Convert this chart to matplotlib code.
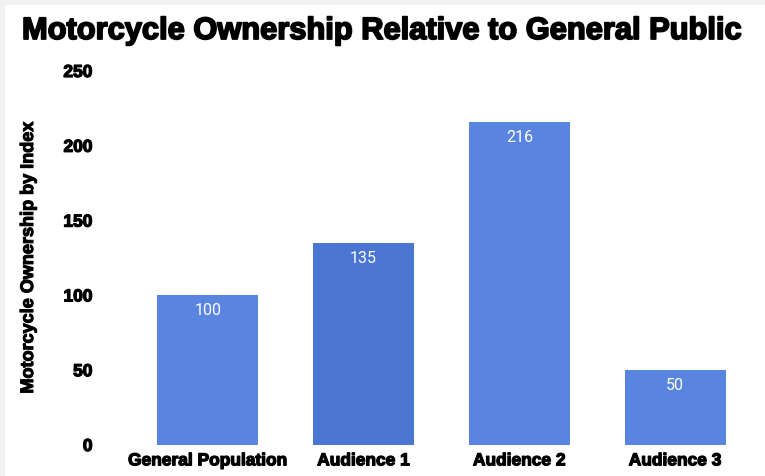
import matplotlib
matplotlib.use("Agg")
import matplotlib.pyplot as plt
import matplotlib.patheffects as pe
from matplotlib.patches import Rectangle

# ── Data ──────────────────────────────────────────────────────────────────────
categories = ["General Population", "Audience 1", "Audience 2", "Audience 3"]
index_values = [100, 135, 216, 50]
bar_colors = ["#5985E0", "#4A76D1", "#5985E0", "#5985E0"]
y_ticks = [0, 50, 100, 150, 200, 250]

TITLE = "Motorcycle Ownership Relative to General Public"
Y_LABEL = "Motorcycle Ownership by Index"

BOLD = ["Liberation Sans", "DejaVu Sans"]
HEAVY = [pe.withStroke(linewidth=0.9, foreground="black")]

# ── Figure ────────────────────────────────────────────────────────────────────
fig = plt.figure(figsize=(7.65, 4.76), dpi=100, facecolor="#f2f2f2")
# white card with a thin grey margin on the left/top
fig.patches.append(Rectangle((5 / 765, 0), 1, 1 - 5 / 476, transform=fig.transFigure,
                             facecolor="white", edgecolor="none", zorder=-10))

ax = fig.add_axes([130 / 765, 31 / 476, 623 / 765, 374 / 476])
ax.set_facecolor("none")
ax.set_zorder(1)

x = range(len(categories))
bars = ax.bar(x, index_values, width=0.65, color=bar_colors, zorder=2)

for rect, val in zip(bars, index_values):
    ax.annotate(f"{val}", (rect.get_x() + rect.get_width() / 2, val),
                xytext=(0, -5.5), textcoords="offset points",
                ha="center", va="top", color="white",
                fontsize=11.5, family=["Roboto", "DejaVu Sans"])

ax.set_xlim(-0.5, 3.5)
ax.set_ylim(0, 250)
ax.set_yticks(y_ticks)
ax.set_xticks(list(x))
ax.set_xticklabels(categories)

for lab in ax.get_yticklabels() + ax.get_xticklabels():
    lab.set_family(BOLD)
    lab.set_fontweight("bold")
    lab.set_fontsize(12.5)
    lab.set_path_effects(HEAVY)

ax.tick_params(axis="y", length=0, pad=27)
ax.tick_params(axis="x", length=0, pad=6)
for s in ax.spines.values():
    s.set_visible(False)

ylab = ax.set_ylabel(Y_LABEL, family=BOLD, fontweight="bold", fontsize=13, labelpad=19)
ylab.set_path_effects([pe.withStroke(linewidth=0.8, foreground="black")])

fig.text(22 / 765, 1 - 31 / 476, TITLE, ha="left", va="center",
         family=BOLD, fontweight="bold", fontsize=22.2,
         path_effects=[pe.withStroke(linewidth=1.3, foreground="black")])

fig.savefig("out.png", dpi=100, facecolor=fig.get_facecolor())
